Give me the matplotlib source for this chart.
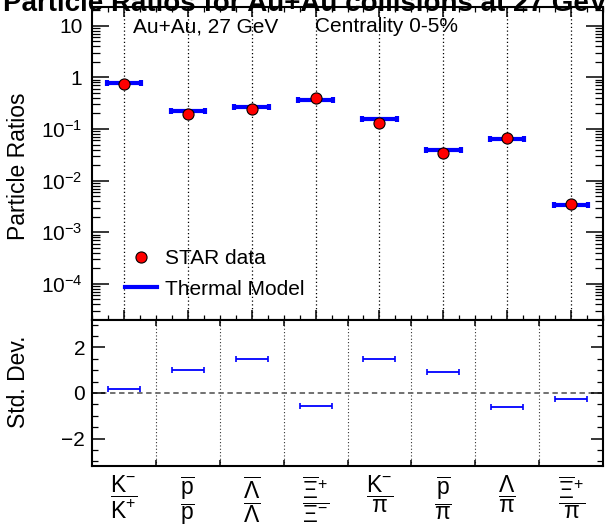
import matplotlib
matplotlib.use('Agg')
import matplotlib.pyplot as plt
from matplotlib.ticker import FixedLocator, NullFormatter
from matplotlib.lines import Line2D
import numpy as np

# données
ratio_labels = [r'$\dfrac{K^{-}}{K^{+}}$',
                r'$\dfrac{\overline{p}}{p}$',
                r'$\dfrac{\overline{\Lambda}}{\Lambda}$',
                r'$\dfrac{\overline{\Xi}^{+}}{\Xi^{-}}$',
                r'$\dfrac{K^{-}}{\pi}$',
                r'$\dfrac{\overline{p}}{\pi}$',
                r'$\dfrac{\Lambda}{\pi}$',
                r'$\dfrac{\overline{\Xi}^{+}}{\pi}$']
star_data = [0.74, 0.195, 0.244, 0.39, 0.13, 0.0348, 0.0679, 0.00349]
thermal_model = [0.765, 0.226, 0.265, 0.369, 0.158, 0.0398, 0.063, 0.00344]
std_dev = [0.18, 0.99, 1.51, -0.59, 1.49, 0.92, -0.62, -0.26]
log_ticks = [1e-4, 1e-3, 1e-2, 1e-1, 1, 10]
log_tick_labels = [r'$10^{-4}$', r'$10^{-3}$', r'$10^{-2}$', r'$10^{-1}$', '1', '10']

plt.rcParams['font.family'] = ['Liberation Sans', 'DejaVu Sans']
plt.rcParams['mathtext.fontset'] = 'custom'
plt.rcParams['mathtext.rm'] = 'Liberation Sans'
plt.rcParams['mathtext.it'] = 'Liberation Sans'
plt.rcParams['mathtext.bf'] = 'Liberation Sans:bold'
plt.rcParams['mathtext.default'] = 'regular'
plt.rcParams['axes.linewidth'] = 1.5

W, H = 605, 528
fig = plt.figure(figsize=(W / 100, H / 100), dpi=100)

def frac(x0, y0, x1, y1):
    return [x0 / W, 1 - y1 / H, (x1 - x0) / W, (y1 - y0) / H]

ax1 = fig.add_axes(frac(92, 7, 603, 320))
ax2 = fig.add_axes(frac(92, 320, 603, 466))

x = np.arange(len(star_data))
half = 0.27

# panneau du haut
for xi in x:
    ax1.axvline(xi, color='black', ls=(0, (1, 2)), lw=0.9, zorder=1)
ax1.errorbar(x, thermal_model, xerr=half, fmt='none', ecolor='blue',
             elinewidth=3, capsize=2.5, capthick=3, zorder=2)
ax1.plot(x, star_data, 'o', color='red', mec='black', mew=0.8, ms=8, zorder=3)

ax1.set_yscale('log')
ax1.set_ylim(2e-5, 23)
ax1.set_xlim(-0.5, 7.5)
ax1.yaxis.set_major_locator(FixedLocator(log_ticks))
ax1.set_yticklabels(log_tick_labels)
ax1.yaxis.set_minor_locator(matplotlib.ticker.LogLocator(base=10, subs=np.arange(2, 10)))
ax1.yaxis.set_minor_formatter(NullFormatter())
ax1.set_xticks(x)
ax1.set_xticks(np.arange(-0.5, 7.6, 0.25), minor=True)
ax1.set_xticklabels([])
ax1.tick_params(axis='y', which='major', direction='in', length=12.5, width=1.1,
                labelsize=15, pad=7, left=True, right=True)
ax1.tick_params(axis='y', which='minor', direction='in', length=6, width=0.9,
                left=True, right=True)
ax1.tick_params(axis='x', which='major', direction='in', length=7, width=1.1,
                top=True, bottom=True)
ax1.tick_params(axis='x', which='minor', direction='in', length=3.5, width=0.9,
                top=True, bottom=True)

ax1.text(0.08, 0.92, 'Au+Au, 27 GeV', transform=ax1.transAxes, fontsize=15)
ax1.text(0.436, 0.92, 'Centrality 0-5%', transform=ax1.transAxes, fontsize=15)

handles = [Line2D([], [], ls='none', marker='o', color='red', mec='black', mew=0.8, ms=8),
           Line2D([], [], color='blue', lw=3)]
ax1.legend(handles, ['STAR data', 'Thermal Model'], loc='lower left',
           bbox_to_anchor=(0.045, 0.035), frameon=False, fontsize=15,
           handlelength=1.5, handletextpad=0.4, labelspacing=0.55, borderpad=0)

# panneau du bas
for xe in np.arange(0.5, 7.5, 1):
    ax2.axvline(xe, color='black', ls=(0, (1, 2)), lw=0.8, alpha=0.8, zorder=1)
ax2.axhline(0, color='#666666', ls=(0, (3, 2)), lw=1.3, zorder=1)
ax2.errorbar(x, std_dev, xerr=0.25, fmt='none', ecolor='blue',
             elinewidth=1.3, capsize=2, capthick=1.2, zorder=2)
ax2.set_xlim(-0.5, 7.5)
ax2.set_ylim(-3.2, 3.2)
ax2.set_yticks([-2, 0, 2])
ax2.set_yticks(np.arange(-3, 3.01, 0.5), minor=True)
ax2.set_xticks(np.arange(0.5, 7.5, 1))
ax2.set_xticklabels([])
ax2.set_xticks(x, minor=True)
ax2.set_xticklabels(ratio_labels, minor=True)
ax2.tick_params(axis='y', which='major', direction='in', length=9, width=1.1,
                labelsize=15, pad=5, left=True, right=True)
ax2.tick_params(axis='y', which='minor', direction='in', length=4.5, width=0.9,
                left=True, right=True)
ax2.tick_params(axis='x', which='major', direction='in', length=4, width=1.1,
                top=True, bottom=True)
ax2.tick_params(axis='x', which='minor', length=0, labelsize=16.5, pad=6)

fig.text(19 / W, 1 - 166 / H, 'Particle Ratios', rotation=90, ha='center',
         va='center', fontsize=16.5)
fig.text(19 / W, 1 - 382 / H, 'Std. Dev.', rotation=90, ha='center',
         va='center', fontsize=16.5)
fig.text(305 / W, 1 - 11 / H, 'Particle Ratios for Au+Au collisions at 27 GeV',
         ha='center', va='baseline', fontsize=20, fontweight='bold')

fig.savefig('out.png', dpi=100)
